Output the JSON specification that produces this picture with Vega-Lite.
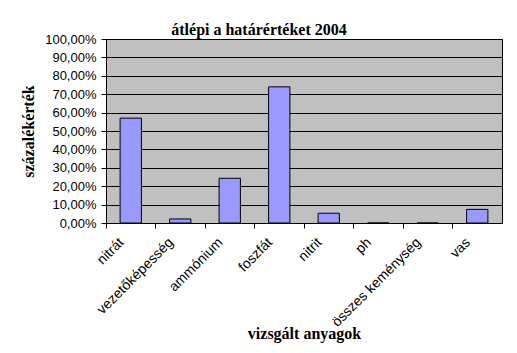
{
  "$schema": "https://vega.github.io/schema/vega-lite/v6.json",
  "width": 396,
  "height": 184,
  "autosize": "none",
  "padding": {"left": 106, "top": 39, "right": 15, "bottom": 130},
  "background": "white",
  "title": {
    "text": "átlépi a határértéket 2004",
    "font": "Liberation Serif",
    "fontSize": 16,
    "fontWeight": "bold",
    "color": "black",
    "frame": "group",
    "baseline": "alphabetic",
    "offset": 9,
    "dy": 27,
    "dx": -45
  },
  "data": {
    "values": [
      {"anyag": "nitrát", "ertek": 0.57},
      {"anyag": "vezetőképesség", "ertek": 0.022},
      {"anyag": "ammónium", "ertek": 0.243},
      {"anyag": "foszfát", "ertek": 0.74},
      {"anyag": "nitrit", "ertek": 0.053},
      {"anyag": "ph", "ertek": 0},
      {"anyag": "összes keménység", "ertek": 0},
      {"anyag": "vas", "ertek": 0.074}
    ]
  },
  "mark": {"type": "bar", "fill": "#9999FF", "stroke": "black", "strokeWidth": 1, "width": {"band": 0.43}},
  "encoding": {
    "x": {
      "field": "anyag",
      "type": "nominal",
      "sort": null,
      "scale": {"paddingInner": 0, "paddingOuter": 0},
      "axis": {
        "title": "vizsgált anyagok",
        "titleFont": "Liberation Serif",
        "titleFontSize": 16,
        "titleFontWeight": "bold",
        "titleColor": "black",
        "titleBaseline": "alphabetic",
        "titleY": 115,
        "titleAnchor": "middle",
        "bandPosition": 0,
        "labelOffset": -9,
        "labelAngle": -45,
        "labelAlign": "right",
        "labelBaseline": "middle",
        "labelFont": "Liberation Sans",
        "labelFontSize": 14,
        "labelColor": "black",
        "labelPadding": 12,
        "labelOverlap": false,
        "labelBound": false,
        "labelLimit": 0,
        "domainColor": "black",
        "tickColor": "black",
        "tickSize": 5,
        "grid": false
      }
    },
    "y": {
      "field": "ertek",
      "type": "quantitative",
      "scale": {"domain": [0, 1], "nice": false},
      "axis": {
        "title": "százalékérték",
        "titleFont": "Liberation Serif",
        "titleFontSize": 16,
        "titleFontWeight": "bold",
        "titleColor": "black",
        "titleBaseline": "alphabetic",
        "titleX": -73,
        "titleY": 92,
        "values": [0, 0.1, 0.2, 0.3, 0.4, 0.5, 0.6, 0.7, 0.8, 0.9, 1],
        "format": ".2%",
        "labelFont": "Liberation Sans",
        "labelFontSize": 13,
        "labelColor": "black",
        "labelPadding": 5,
        "domainColor": "black",
        "tickColor": "black",
        "tickSize": 5,
        "grid": true,
        "gridColor": "black",
        "gridOpacity": 1,
        "gridWidth": 1
      }
    }
  },
  "config": {
    "locale": {"number": {"decimal": ",", "thousands": " ", "grouping": [3], "currency": ["", " Ft"]}},
    "view": {"fill": "#C0C0C0", "stroke": "black", "strokeWidth": 1}
  }
}
